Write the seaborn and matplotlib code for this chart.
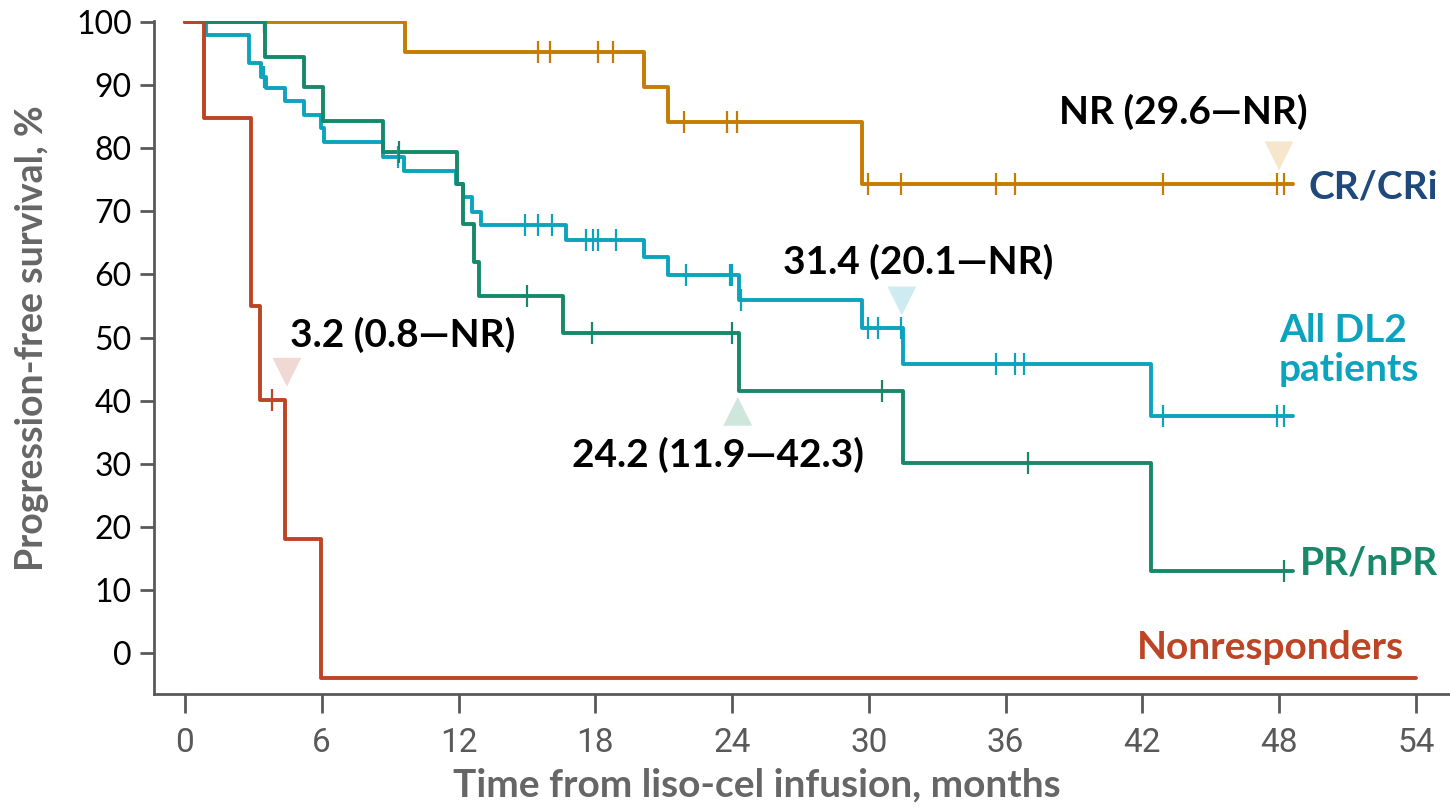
import numpy as np
import pandas as pd
import matplotlib
matplotlib.use("Agg")
import matplotlib.pyplot as plt
import seaborn as sns

# Kaplan-Meier step data: event times (months) and survival after each step (%)
cr_times = [0, 9.65, 20.15, 21.2, 29.7]
cr_surv = [100, 95.2, 89.7, 84.2, 74.3]
cr_censor = [15.5, 16.0, 18.1, 18.8, 21.9, 23.8, 24.2, 29.95, 31.4, 35.6, 36.4, 42.9, 47.9, 48.2]
cr_end = 48.6

dl2_times = [0, 0.9, 2.8, 3.35, 3.55, 4.4, 5.2, 5.95, 6.1, 8.7, 9.6, 11.9, 12.2, 12.6, 13.0,
             16.7, 20.15, 21.2, 24.3, 29.7, 31.5, 42.4]
dl2_surv = [100, 97.9, 93.5, 91.3, 89.5, 87.5, 85.3, 83.2, 81.0, 78.6, 76.4, 74.3, 72.3, 69.9, 67.8,
            65.5, 62.7, 59.9, 55.9, 51.5, 45.8, 37.6]
dl2_censor = [3.45, 9.35, 14.9, 15.5, 16.1, 17.6, 17.9, 18.1, 18.9, 22.0, 23.9, 24.0, 24.4,
              29.95, 30.4, 31.4, 35.6, 36.4, 36.8, 42.9, 47.9, 48.2]
dl2_end = 48.6

pr_times = [0, 3.5, 5.2, 6.05, 8.7, 11.95, 12.2, 12.7, 12.9, 16.6, 24.3, 31.5, 42.4]
pr_surv = [100, 94.5, 89.7, 84.3, 79.4, 74.3, 68.0, 62.0, 56.6, 50.7, 41.5, 30.1, 13.0]
pr_censor = [3.45, 9.4, 15.0, 17.85, 24.0, 30.6, 37.0, 48.2]
pr_end = 48.6

nr_times = [0, 0.85, 2.9, 3.3, 4.4, 5.95]
nr_surv = [100, 84.8, 55.0, 40.1, 18.1, -4.0]
nr_censor = [3.8]
nr_end = 54.0

groups = ["CR/CRi", "All DL2 patients", "PR/nPR", "Nonresponders"]
medians = ["NR (29.6—NR)", "31.4 (20.1—NR)", "24.2 (11.9—42.3)", "3.2 (0.8—NR)"]

x_ticks = [0, 6, 12, 18, 24, 30, 36, 42, 48, 54]
y_ticks = [0, 10, 20, 30, 40, 50, 60, 70, 80, 90, 100]

palette = {
    "CR/CRi": "#C67C00",
    "All DL2 patients": "#0BA3BD",
    "PR/nPR": "#17896A",
    "Nonresponders": "#BD4525",
}

series = {
    "CR/CRi": (cr_times, cr_surv, cr_censor, cr_end),
    "All DL2 patients": (dl2_times, dl2_surv, dl2_censor, dl2_end),
    "PR/nPR": (pr_times, pr_surv, pr_censor, pr_end),
    "Nonresponders": (nr_times, nr_surv, nr_censor, nr_end),
}

curve_rows, censor_rows = [], []
for g, (t, s, c, end) in series.items():
    t_all = list(t) + [end]
    s_all = list(s) + [s[-1]]
    for ti, si in zip(t_all, s_all):
        curve_rows.append({"group": g, "time": ti, "surv": si})
    t_arr = np.asarray(t)
    for ci in c:
        idx = np.searchsorted(t_arr, ci, side="right") - 1
        censor_rows.append({"group": g, "time": ci, "surv": s[idx]})

curves = pd.DataFrame(curve_rows)
censors = pd.DataFrame(censor_rows)

sns.set_theme(style="ticks")
plt.rcParams["font.family"] = ["Lato", "DejaVu Sans"]

fig = plt.figure(figsize=(14.5, 8.09), dpi=100)
ax = fig.add_axes([0.1062, 0.1422, 0.8938, 0.832])

for g in groups:
    sub = curves[curves["group"] == g]
    sns.lineplot(data=sub, x="time", y="surv", ax=ax, color=palette[g],
                 drawstyle="steps-post", estimator=None, sort=False,
                 linewidth=2.8, legend=False)
    csub = censors[censors["group"] == g]
    sns.scatterplot(data=csub, x="time", y="surv", ax=ax, color=palette[g],
                    marker="|", s=230, linewidth=1.6, legend=False, zorder=4)

# Median markers and labels
tri_specs = [
    ("CR/CRi", 48.0, 78.8, "v", "#F5E6CC", 43.8, 85.7),
    ("All DL2 patients", 31.45, 55.8, "v", "#CDEBF1", 32.15, 62.0),
    ("PR/nPR", 24.25, 38.3, "^", "#CFE6DD", 23.4, 31.4),
    ("Nonresponders", 4.47, 44.5, "v", "#F1D9D3", 9.55, 50.4),
]
for (g, tx, ty, mk, col, lx, ly), label in zip(tri_specs, medians):
    ax.scatter([tx], [ty], marker=mk, s=430, color=col, edgecolor="none", zorder=3)
    ax.text(lx, ly, label, ha="center", va="center", fontsize=28,
            fontweight="bold", color="black")

# Curve labels
ax.text(49.3, 73.9, "CR/CRi", ha="left", va="center", fontsize=28,
        fontweight="bold", color="#1F497D")
ax.text(48.0, 48.0, "All DL2\npatients", ha="left", va="center", fontsize=28,
        fontweight="bold", color=palette["All DL2 patients"], linespacing=1.15)
ax.text(48.9, 14.3, "PR/nPR", ha="left", va="center", fontsize=28,
        fontweight="bold", color=palette["PR/nPR"])
ax.text(41.75, 0.8, "Nonresponders", ha="left", va="center", fontsize=28,
        fontweight="bold", color=palette["Nonresponders"])

ax.set_xlim(-1.36, 55.5)
ax.set_ylim(-6.5, 100.2)
ax.set_xticks(x_ticks)
ax.set_yticks(y_ticks)
ax.set_xticklabels([str(v) for v in x_ticks], fontsize=24, color="#595959",
                   family=["Roboto", "DejaVu Sans"])
ax.set_yticklabels([str(v) for v in y_ticks], fontsize=23, color="black")

for side in ["top", "right"]:
    ax.spines[side].set_visible(False)
for side in ["left", "bottom"]:
    ax.spines[side].set_color("#595959")
    ax.spines[side].set_linewidth(2.0)
ax.tick_params(axis="x", length=14, width=2.0, color="#595959", pad=10)
ax.tick_params(axis="y", length=10, width=2.0, color="#595959", pad=6)

ax.set_xlabel("Time from liso-cel infusion, months", fontsize=28,
              fontweight="bold", color="#666666")
ax.set_ylabel("Progression-free survival, %", fontsize=27,
              fontweight="bold", color="#666666")
ax.xaxis.set_label_coords(0.465, -0.135)
ax.yaxis.set_label_coords(-0.094, 0.529)
ax.xaxis.label.set_va("center")
ax.yaxis.label.set_va("center")

fig.savefig("out.png", dpi=100)
